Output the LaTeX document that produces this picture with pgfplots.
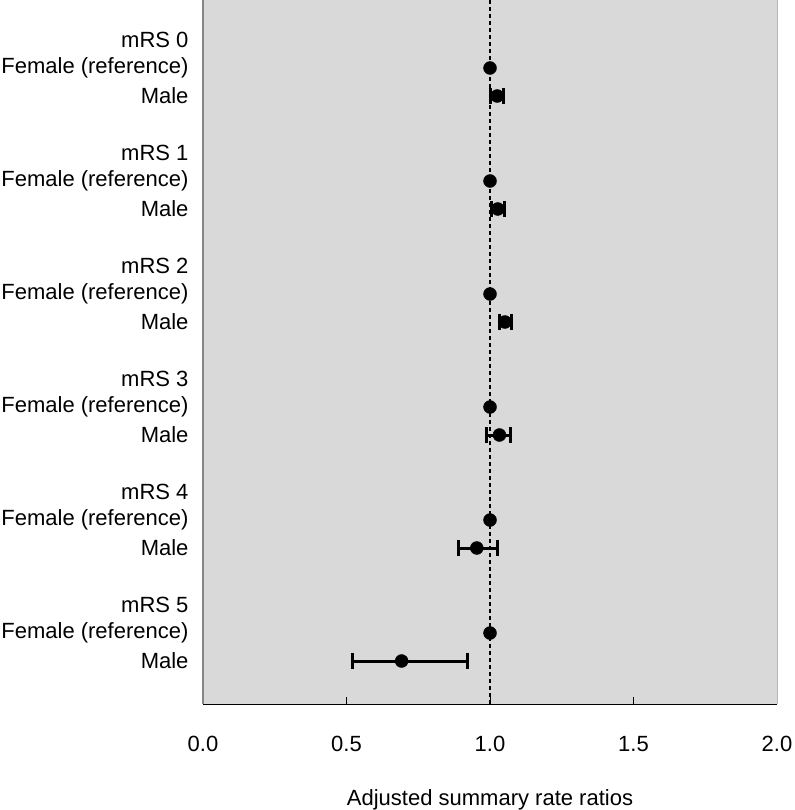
\documentclass[border=0pt]{standalone}
\usepackage{pgfplots}
\pgfplotsset{compat=1.18}
\usepackage{fontspec}
\setmainfont{Liberation Sans}
\definecolor{panel}{RGB}{217,217,217}
\definecolor{frame}{RGB}{134,134,134}

\begin{document}
\begin{tikzpicture}[x=1pt,y=1pt]
  \useasboundingbox (0,0) rectangle (794,810);
  \begin{axis}[
    at={(203pt,106pt)},anchor=south west,
    width=574pt,height=704pt,scale only axis,
    xmin=0,xmax=2,ymin=0,ymax=704,y dir=reverse,
    axis background/.style={fill=panel},
    axis x line*=bottom,axis y line*=left,
    x axis line style={black,line width=1pt,-},
    y axis line style={frame,line width=1.5pt,-},
    xtick={0,0.5,1,1.5,2},
    tick align=inside,major tick length=7pt,
    xtick style={black,line width=1pt},
    xticklabel style={font=\fontsize{22}{26}\selectfont,yshift=-29pt,
      /pgf/number format/.cd,fixed,fixed zerofill,precision=1,assume math mode=true},
    ytick={40,68,96,153,181,209,266,294,322,379,407,435,492,520,548,605,633,661},
    yticklabels={mRS 0,Female (reference),Male,mRS 1,Female (reference),Male,
      mRS 2,Female (reference),Male,mRS 3,Female (reference),Male,
      mRS 4,Female (reference),Male,mRS 5,Female (reference),Male},
    ytick style={draw=none},
    yticklabel style={font=\fontsize{22}{26}\selectfont,anchor=east,xshift=-11pt},
    xlabel={Adjusted summary rate ratios},
    xlabel style={font=\fontsize{22}{26}\selectfont,yshift=-31pt},
    clip=false,
  ]
    \draw[frame!60,line width=1pt] (rel axis cs:1,0) -- (rel axis cs:1,1);
    \draw[black,line width=1.5pt,dash pattern=on 4pt off 3pt] (axis cs:1,0) -- (axis cs:1,704);
    % female (reference)
    \addplot[only marks,mark=*,mark size=6.5pt,black] coordinates {
      (1,68) (1,181) (1,294) (1,407) (1,520) (1,633)};
    % male with 95% CI
    \addplot[only marks,mark=*,mark size=6.5pt,black,
      error bars/.cd,x dir=both,x explicit,
      error bar style={line width=3pt},
      error mark=|,
      error mark options={black,line width=3pt,mark size=8pt}]
      coordinates {
      (1.025,96)  += (0.022,0) -= (0.025,0)
      (1.027,209) += (0.022,0) -= (0.023,0)
      (1.052,322) += (0.023,0) -= (0.020,0)
      (1.033,435) += (0.037,0) -= (0.045,0)
      (0.954,548) += (0.071,0) -= (0.064,0)
      (0.692,661) += (0.229,0) -= (0.170,0)
    };
  \end{axis}
\end{tikzpicture}
\end{document}
